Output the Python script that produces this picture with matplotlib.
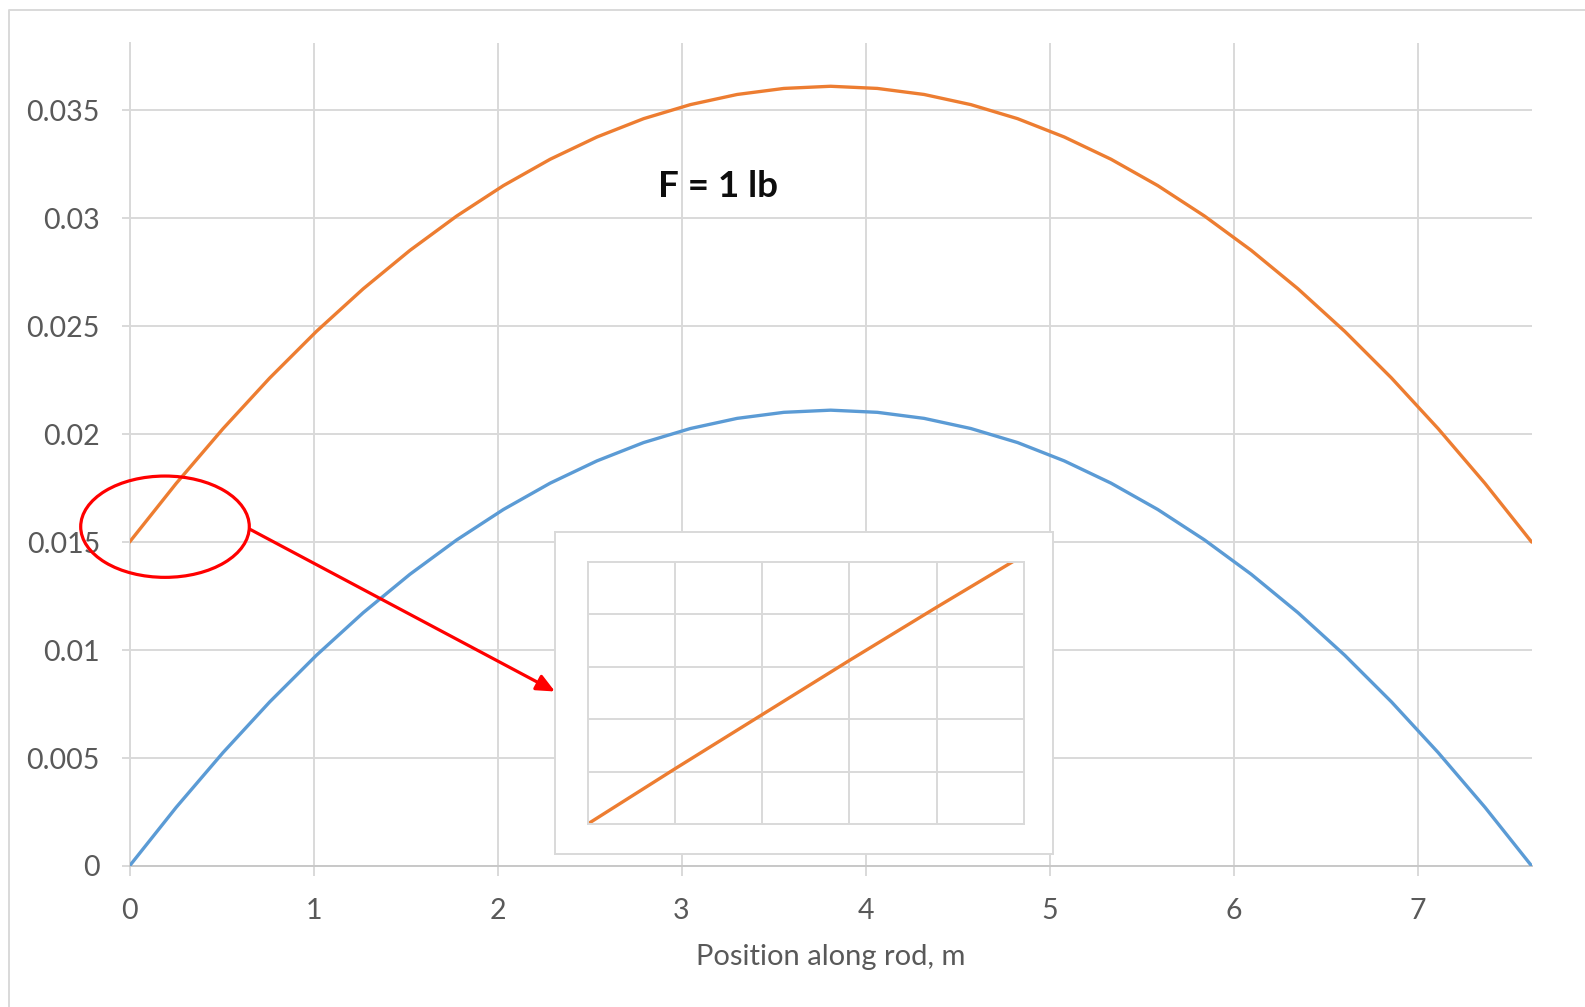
import matplotlib
matplotlib.use("Agg")
import matplotlib.pyplot as plt
from matplotlib.patches import Ellipse, FancyArrowPatch
from matplotlib.lines import Line2D

plt.rcParams['font.family'] = ['Lato', 'DejaVu Sans']

# ---- data ----
x_pos = [0.000, 0.254, 0.508, 0.762, 1.016, 1.270, 1.524, 1.778, 2.032, 2.286,
         2.540, 2.794, 3.048, 3.302, 3.556, 3.810, 4.064, 4.318, 4.572, 4.826,
         5.080, 5.334, 5.588, 5.842, 6.096, 6.350, 6.604, 6.858, 7.112, 7.366, 7.620]
blue_vals = [0.00000, 0.00272, 0.00525, 0.00760, 0.00976, 0.01173, 0.01351, 0.01510,
             0.01651, 0.01773, 0.01876, 0.01961, 0.02026, 0.02073, 0.02101, 0.02111,
             0.02101, 0.02073, 0.02026, 0.01961, 0.01876, 0.01773, 0.01651, 0.01510,
             0.01351, 0.01173, 0.00976, 0.00760, 0.00525, 0.00272, 0.00000]
orange_vals = [0.01500, 0.01772, 0.02025, 0.02260, 0.02476, 0.02673, 0.02851, 0.03010,
               0.03151, 0.03273, 0.03376, 0.03461, 0.03526, 0.03573, 0.03601, 0.03611,
               0.03601, 0.03573, 0.03526, 0.03461, 0.03376, 0.03273, 0.03151, 0.03010,
               0.02851, 0.02673, 0.02476, 0.02260, 0.02025, 0.01772, 0.01500]
x_ticks = [0, 1, 2, 3, 4, 5, 6, 7]
x_tick_labels = ['0', '1', '2', '3', '4', '5', '6', '7']
y_ticks = [0, 0.005, 0.01, 0.015, 0.02, 0.025, 0.03, 0.035]
y_tick_labels = ['0', '0.005', '0.01', '0.015', '0.02', '0.025', '0.03', '0.035']
x_label = 'Position along rod, m'
annotation_text = 'F = 1 lb'

inset_x = [0.00, 0.05, 0.10, 0.15, 0.20, 0.25]
inset_y = [0.01500, 0.01555, 0.01609, 0.01663, 0.01716, 0.01768]

# ---- styling ----
BLUE = '#5B9BD5'
ORANGE = '#ED7D31'
GRID = '#D9D9D9'
TXT = '#595959'

W, H = 1585, 1007
fig = plt.figure(figsize=(W / 100, H / 100), dpi=100)

def fx(px):
    return px / W

def fy(py):
    return (H - py) / H

# outer chart border (top and left visible)
fig.add_artist(Line2D([fx(9.3), fx(9.3), fx(1600)], [fy(1020), fy(10), fy(10)],
                      color=GRID, lw=1.4, transform=fig.transFigure))

ax = fig.add_axes([fx(129.5), fy(866), fx(1531.7) - fx(129.5), fy(43.3) - fy(866)])
ax.plot(x_pos, blue_vals, color=BLUE, lw=2.4, solid_capstyle='round', zorder=3)
ax.plot(x_pos, orange_vals, color=ORANGE, lw=2.4, solid_capstyle='round', zorder=3)
ax.set_xlim(0, 7.62)
ax.set_ylim(0, 0.0381)
ax.set_xticks(x_ticks)
ax.set_xticklabels(x_tick_labels)
ax.set_yticks(y_ticks)
ax.set_yticklabels(y_tick_labels)
ax.grid(True, color=GRID, lw=1.4)
ax.set_axisbelow(True)
for s in ['top', 'right']:
    ax.spines[s].set_visible(False)
ax.spines['left'].set_color(GRID)
ax.spines['left'].set_linewidth(1.4)
ax.spines['bottom'].set_color('#C8C8C8')
ax.spines['bottom'].set_linewidth(1.4)
ax.tick_params(axis='x', length=7.2, width=1.4, color=GRID, labelcolor=TXT,
               labelsize=20.5, pad=16)
ax.tick_params(axis='y', length=5.8, width=1.4, color=GRID, labelcolor=TXT,
               labelsize=20.5, pad=15.5)
ax.set_xlabel(x_label, color=TXT, fontsize=21, labelpad=14)

ax.text(fx(658), fy(197), annotation_text, transform=fig.transFigure,
        fontsize=26.5, fontweight='bold', color='#0D0D0D', va='baseline', ha='left')

# inset outer box
box = fig.add_axes([fx(555), fy(854), fx(1053) - fx(555), fy(531.7) - fy(854)])
box.set_facecolor('white')
box.set_xticks([])
box.set_yticks([])
for s in box.spines.values():
    s.set_color(GRID)
    s.set_linewidth(1.4)

# inset plot
ins = fig.add_axes([fx(587.7), fy(824), fx(1024) - fx(587.7), fy(562) - fy(824)])
ins.set_facecolor('white')
ins.plot(inset_x, inset_y, color=ORANGE, lw=2.4, solid_capstyle='round')
ins.set_xlim(0, 0.25)
ins.set_ylim(0.015, 0.01761)
ins.set_xticks([0.05, 0.10, 0.15, 0.20])
ins.set_yticks([0.015522, 0.016044, 0.016566, 0.017088])
ins.grid(True, color=GRID, lw=1.4)
ins.set_axisbelow(True)
ins.tick_params(length=0, labelbottom=False, labelleft=False)
for s in ins.spines.values():
    s.set_color(GRID)
    s.set_linewidth(1.4)

# red ellipse and arrow
ell = Ellipse((fx(165), fy(526.7)), fx(168.6), 101.3 / H, transform=fig.transFigure,
              fill=False, edgecolor='#FF0000', lw=2.3, zorder=10)
fig.add_artist(ell)
arr = FancyArrowPatch((fx(250), fy(529.3)), (fx(555), fy(691.5)),
                      transform=fig.transFigure,
                      arrowstyle='-|>,head_length=11,head_width=5',
                      color='#FF0000', lw=2.3, shrinkA=0, shrinkB=0, zorder=10,
                      mutation_scale=1)
fig.add_artist(arr)

fig.savefig('out.png', dpi=100)
